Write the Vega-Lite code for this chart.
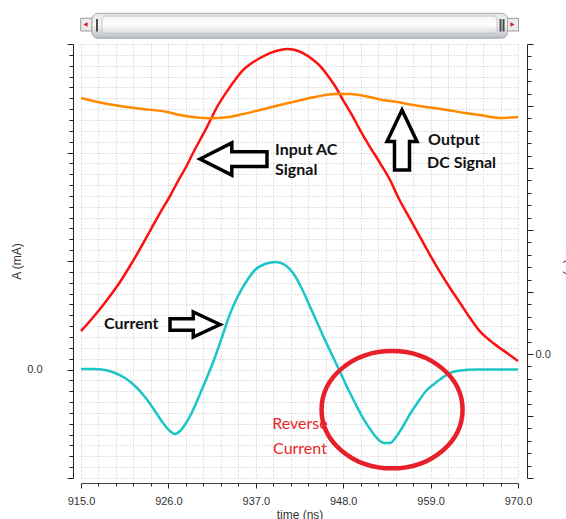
{
  "$schema": "https://vega.github.io/schema/vega-lite/v6.json",
  "width": 437,
  "height": 434,
  "autosize": {"type": "none"},
  "padding": {"left": 81, "top": 44, "right": 48, "bottom": 41},
  "background": "white",
  "config": {
    "view": {"stroke": null},
    "axis": {
      "labelFont": "Liberation Sans", "labelFontSize": 11, "labelColor": "#333",
      "titleFont": "Liberation Sans", "titleFontSize": 12, "titleFontWeight": "normal", "titleColor": "#333",
      "domainColor": "#222", "tickColor": "#222", "labelOverlap": false, "labelFlush": false
    }
  },
  "datasets": {
    "current": [
      {"t": 915.00, "v": 0.05}, {"t": 916.76, "v": 0.05}, {"t": 918.02, "v": -0.05}, {"t": 919.28, "v": -0.32},
      {"t": 920.54, "v": -0.78}, {"t": 921.80, "v": -1.52}, {"t": 923.06, "v": -2.53}, {"t": 924.31, "v": -3.82},
      {"t": 925.32, "v": -4.93}, {"t": 926.20, "v": -5.67}, {"t": 926.83, "v": -5.94}, {"t": 927.46, "v": -5.67},
      {"t": 928.22, "v": -4.93}, {"t": 929.10, "v": -3.73}, {"t": 929.98, "v": -2.26}, {"t": 930.98, "v": -0.51},
      {"t": 931.87, "v": 1.15}, {"t": 932.75, "v": 2.99}, {"t": 933.75, "v": 5.11}, {"t": 934.76, "v": 6.77},
      {"t": 935.77, "v": 8.06}, {"t": 936.90, "v": 9.17}, {"t": 938.16, "v": 9.72}, {"t": 939.55, "v": 9.91},
      {"t": 940.68, "v": 9.63}, {"t": 941.69, "v": 8.89}, {"t": 942.57, "v": 7.79}, {"t": 943.57, "v": 6.22},
      {"t": 944.58, "v": 4.56}, {"t": 945.59, "v": 2.90}, {"t": 946.60, "v": 1.34}, {"t": 947.61, "v": -0.23},
      {"t": 948.61, "v": -1.80}, {"t": 949.62, "v": -3.27}, {"t": 950.63, "v": -4.65}, {"t": 951.64, "v": -5.76},
      {"t": 952.64, "v": -6.59}, {"t": 953.15, "v": -6.77}, {"t": 953.90, "v": -6.77}, {"t": 954.65, "v": -6.22},
      {"t": 955.40, "v": -5.39}, {"t": 956.41, "v": -4.10}, {"t": 957.42, "v": -2.99}, {"t": 958.42, "v": -1.98},
      {"t": 959.43, "v": -1.34}, {"t": 960.44, "v": -0.78}, {"t": 961.45, "v": -0.32}, {"t": 962.71, "v": -0.09},
      {"t": 964.84, "v": 0.0}, {"t": 966.48, "v": 0.0}, {"t": 970.00, "v": 0.0}
    ],
    "voltage": [
      {"s": "AC", "t": 915.00, "v": 1.85}, {"s": "AC", "t": 916.13, "v": 2.66}, {"s": "AC", "t": 917.39, "v": 3.63},
      {"s": "AC", "t": 918.65, "v": 4.68}, {"s": "AC", "t": 919.91, "v": 5.81}, {"s": "AC", "t": 921.17, "v": 7.10},
      {"s": "AC", "t": 922.43, "v": 8.47}, {"s": "AC", "t": 923.68, "v": 9.92}, {"s": "AC", "t": 924.94, "v": 11.37},
      {"s": "AC", "t": 926.20, "v": 12.74}, {"s": "AC", "t": 927.21, "v": 13.95}, {"s": "AC", "t": 928.22, "v": 15.08},
      {"s": "AC", "t": 929.10, "v": 16.21}, {"s": "AC", "t": 929.98, "v": 17.26}, {"s": "AC", "t": 930.86, "v": 18.31},
      {"s": "AC", "t": 932.12, "v": 19.92}, {"s": "AC", "t": 933.75, "v": 21.53}, {"s": "AC", "t": 935.39, "v": 22.90},
      {"s": "AC", "t": 936.52, "v": 23.47}, {"s": "AC", "t": 937.53, "v": 23.87}, {"s": "AC", "t": 938.79, "v": 24.27},
      {"s": "AC", "t": 940.05, "v": 24.52}, {"s": "AC", "t": 940.93, "v": 24.60}, {"s": "AC", "t": 941.94, "v": 24.52},
      {"s": "AC", "t": 942.94, "v": 24.27}, {"s": "AC", "t": 944.08, "v": 23.79}, {"s": "AC", "t": 945.08, "v": 23.23},
      {"s": "AC", "t": 946.09, "v": 22.42}, {"s": "AC", "t": 946.97, "v": 21.61}, {"s": "AC", "t": 947.98, "v": 20.48},
      {"s": "AC", "t": 949.11, "v": 19.27}, {"s": "AC", "t": 950.12, "v": 18.06}, {"s": "AC", "t": 951.38, "v": 16.69},
      {"s": "AC", "t": 952.64, "v": 15.40}, {"s": "AC", "t": 953.90, "v": 14.03}, {"s": "AC", "t": 954.90, "v": 12.66},
      {"s": "AC", "t": 956.41, "v": 10.89}, {"s": "AC", "t": 957.67, "v": 9.44}, {"s": "AC", "t": 958.93, "v": 7.98},
      {"s": "AC", "t": 960.19, "v": 6.61}, {"s": "AC", "t": 961.45, "v": 5.32}, {"s": "AC", "t": 962.71, "v": 4.11},
      {"s": "AC", "t": 963.97, "v": 2.90}, {"s": "AC", "t": 965.22, "v": 1.82}, {"s": "AC", "t": 966.86, "v": 0.89},
      {"s": "AC", "t": 968.62, "v": 0.08}, {"s": "AC", "t": 970.00, "v": -0.56},
      {"s": "DC", "t": 915.00, "v": 20.65}, {"s": "DC", "t": 917.39, "v": 20.28}, {"s": "DC", "t": 919.91, "v": 20.00},
      {"s": "DC", "t": 922.80, "v": 19.76}, {"s": "DC", "t": 925.82, "v": 19.52}, {"s": "DC", "t": 927.46, "v": 19.27},
      {"s": "DC", "t": 929.60, "v": 19.07}, {"s": "DC", "t": 931.24, "v": 19.01}, {"s": "DC", "t": 933.38, "v": 19.09},
      {"s": "DC", "t": 935.39, "v": 19.35}, {"s": "DC", "t": 937.53, "v": 19.68}, {"s": "DC", "t": 940.05, "v": 20.08},
      {"s": "DC", "t": 942.19, "v": 20.40}, {"s": "DC", "t": 944.45, "v": 20.73}, {"s": "DC", "t": 946.97, "v": 20.97},
      {"s": "DC", "t": 948.86, "v": 20.97}, {"s": "DC", "t": 950.75, "v": 20.81}, {"s": "DC", "t": 952.64, "v": 20.52},
      {"s": "DC", "t": 954.77, "v": 20.32}, {"s": "DC", "t": 956.79, "v": 20.08}, {"s": "DC", "t": 958.93, "v": 19.88},
      {"s": "DC", "t": 961.07, "v": 19.68}, {"s": "DC", "t": 963.33, "v": 19.44}, {"s": "DC", "t": 965.22, "v": 19.27},
      {"s": "DC", "t": 967.74, "v": 19.03}, {"s": "DC", "t": 969.00, "v": 19.07}, {"s": "DC", "t": 970.00, "v": 19.11}
    ],
    "blackNotes": [
      {"label": "Input AC", "t": 939.42, "v": 19.77},
      {"label": "Signal", "t": 939.42, "v": 17.93},
      {"label": "Output", "t": 958.68, "v": 20.69},
      {"label": "DC Signal", "t": 958.55, "v": 18.57},
      {"label": "Current", "t": 917.89, "v": 3.73}
    ],
    "redNotes": [
      {"label": "Reverse", "t": 942.56, "v": -5.48},
      {"label": "Current", "t": 942.56, "v": -7.79}
    ]
  },
  "layer": [
    {
      "data": {"name": "current"},
      "mark": {"type": "line", "color": "#1cc6c6", "strokeWidth": 2.5, "interpolate": "monotone"},
      "encoding": {
        "x": {
          "field": "t", "type": "quantitative",
          "scale": {"domain": [915, 970], "nice": false, "zero": false},
          "axis": {
            "values": [915, 917.2, 919.4, 921.6, 923.8, 926, 928.2, 930.4, 932.6, 934.8, 937, 939.2, 941.4, 943.6, 945.8, 948, 950.2, 952.4, 954.6, 956.8, 959, 961.2, 963.4, 965.6, 967.8, 970],
            "tickCount": 200,
            "labelExpr": "abs((datum.value - 915) / 11 - round((datum.value - 915) / 11)) < 0.001 ? format(datum.value, '.1f') : ''",
            "tickSize": {"condition": {"test": "abs((datum.value - 915) / 11 - round((datum.value - 915) / 11)) < 0.001", "value": 5}, "value": 3},
            "grid": true, "gridColor": "#c4c4c4", "gridDash": [1, 2],
            "offset": 5, "labelPadding": 7,
            "title": "time (ns)", "titlePadding": 3, "domainColor": "#444"
          }
        },
        "y": {
          "field": "v", "type": "quantitative",
          "scale": {"domain": [-10, 30], "nice": false, "zero": false},
          "axis": {
            "orient": "left",
            "values": [-10, -9, -8, -7, -6, -5, -4, -3, -2, -1, 0, 1, 2, 3, 4, 5, 6, 7, 8, 9, 10, 11, 12, 13, 14, 15, 16, 17, 18, 19, 20, 21, 22, 23, 24, 25, 26, 27, 28, 29, 30],
            "tickCount": 200,
            "labelExpr": "datum.value == 0 ? '0.0' : ''",
            "tickSize": {"condition": {"test": "datum.value % 10 == 0", "value": 6}, "value": 4},
            "grid": true, "gridColor": "#c4c4c4", "gridDash": [1, 2],
            "offset": 8, "labelPadding": 25,
            "title": "A (mA)", "titlePadding": 3
          }
        }
      }
    },
    {
      "data": {"name": "voltage"},
      "mark": {"type": "line", "strokeWidth": 2.5, "interpolate": "monotone"},
      "encoding": {
        "x": {"field": "t", "type": "quantitative"},
        "y": {
          "field": "v", "type": "quantitative",
          "scale": {"domain": [-10, 25], "nice": false, "zero": false},
          "axis": {
            "orient": "right",
            "values": [-10, -9, -8, -7, -6, -5, -4, -3, -2, -1, 0, 1, 2, 3, 4, 5, 6, 7, 8, 9, 10, 11, 12, 13, 14, 15, 16, 17, 18, 19, 20, 21, 22, 23, 24, 25],
            "tickCount": 200,
            "labelExpr": "datum.value == 0 ? '0.0' : ''",
            "tickSize": {"condition": {"test": "datum.value % 5 == 0", "value": 6}, "value": 4},
            "grid": false, "offset": 9, "labelPadding": 2,
            "title": "V (V)", "titlePadding": 12
          }
        },
        "color": {"field": "s", "type": "nominal", "scale": {"domain": ["AC", "DC"], "range": ["#ff1010", "#ff8a00"]}, "legend": null}
      }
    },
    {
      "data": {"values": [{"t": 934.19, "v": 19.4}]},
      "mark": {"type": "point", "shape": "M -1 0 L -0.05 -0.48 L -0.05 -0.22 L 1 -0.22 L 1 0.22 L -0.05 0.22 L -0.05 0.48 Z", "size": 4489, "filled": true, "fill": "white", "stroke": "black", "strokeWidth": 3.5, "opacity": 1},
      "encoding": {
        "x": {"field": "t", "type": "quantitative"},
        "y": {"field": "v", "type": "quantitative", "scale": {"domain": [-10, 30], "nice": false, "zero": false}, "axis": null}
      }
    },
    {
      "data": {"values": [{"t": 955.40, "v": 21.15}]},
      "mark": {"type": "point", "shape": "M 0 -1 L 0.5 0.05 L 0.25 0.05 L 0.25 1 L -0.25 1 L -0.25 0.05 L -0.5 0.05 Z", "size": 3600, "filled": true, "fill": "white", "stroke": "black", "strokeWidth": 3.5, "opacity": 1},
      "encoding": {
        "x": {"field": "t", "type": "quantitative"},
        "y": {"field": "v", "type": "quantitative", "scale": {"domain": [-10, 30], "nice": false, "zero": false}, "axis": null}
      }
    },
    {
      "data": {"values": [{"t": 929.35, "v": 4.15}]},
      "mark": {"type": "point", "shape": "M 1 0 L -0.07 -0.5 L -0.07 -0.23 L -1 -0.23 L -1 0.23 L -0.07 0.23 L -0.07 0.5 Z", "size": 2500, "filled": true, "fill": "white", "stroke": "black", "strokeWidth": 3.5, "opacity": 1},
      "encoding": {
        "x": {"field": "t", "type": "quantitative"},
        "y": {"field": "v", "type": "quantitative", "scale": {"domain": [-10, 30], "nice": false, "zero": false}, "axis": null}
      }
    },
    {
      "data": {"values": [{"t": 954.15, "v": -3.7}]},
      "mark": {"type": "point", "shape": "M -1 0 C -1 -0.46 -0.552 -0.833 0 -0.833 C 0.552 -0.833 1 -0.46 1 0 C 1 0.46 0.552 0.833 0 0.833 C -0.552 0.833 -1 0.46 -1 0 Z", "size": 19881, "filled": false, "stroke": "#e8202a", "strokeWidth": 4.5, "opacity": 1},
      "encoding": {
        "x": {"field": "t", "type": "quantitative"},
        "y": {"field": "v", "type": "quantitative", "scale": {"domain": [-10, 30], "nice": false, "zero": false}, "axis": null}
      }
    },
    {
      "data": {"name": "blackNotes"},
      "mark": {"type": "text", "align": "left", "baseline": "alphabetic", "font": "Lato", "fontSize": 16, "fontWeight": "bold", "color": "#111"},
      "encoding": {
        "x": {"field": "t", "type": "quantitative"},
        "y": {"field": "v", "type": "quantitative", "scale": {"domain": [-10, 30], "nice": false, "zero": false}, "axis": null},
        "text": {"field": "label"}
      }
    },
    {
      "data": {"name": "redNotes"},
      "mark": {"type": "text", "align": "center", "baseline": "alphabetic", "font": "Lato", "fontSize": 16, "color": "#e8262b"},
      "encoding": {
        "x": {"field": "t", "type": "quantitative"},
        "y": {"field": "v", "type": "quantitative", "scale": {"domain": [-10, 30], "nice": false, "zero": false}, "axis": null},
        "text": {"field": "label"}
      }
    },
    {
      "data": {"values": [{"t": 914.96, "t2": 916.38, "v": 32.37, "v2": 31.2}, {"t": 968.68, "t2": 970.06, "v": 32.37, "v2": 31.2}]},
      "mark": {"type": "rect", "fill": "#ececec", "stroke": "#9a9a9a", "strokeWidth": 1},
      "encoding": {
        "x": {"field": "t", "type": "quantitative"},
        "x2": {"field": "t2"},
        "y": {"field": "v", "type": "quantitative", "scale": {"domain": [-10, 30], "nice": false, "zero": false}, "axis": null},
        "y2": {"field": "v2"}
      }
    },
    {
      "data": {"values": [{"t": 916.38, "t2": 968.68, "v": 32.83, "v2": 30.53}]},
      "mark": {"type": "rect", "cornerRadius": 6, "stroke": "#a4a8ae", "strokeWidth": 1,
        "fill": {"gradient": "linear", "x1": 0, "y1": 0, "x2": 0, "y2": 1, "stops": [{"offset": 0, "color": "#e2e3e5"}, {"offset": 0.45, "color": "#f7f7f7"}, {"offset": 1, "color": "#b9bdc3"}]}},
      "encoding": {
        "x": {"field": "t", "type": "quantitative"},
        "x2": {"field": "t2"},
        "y": {"field": "v", "type": "quantitative", "scale": {"domain": [-10, 30], "nice": false, "zero": false}, "axis": null},
        "y2": {"field": "v2"}
      }
    },
    {
      "data": {"values": [{"t": 917.64, "t2": 967.36, "v": 32.58, "v2": 30.99}]},
      "mark": {"type": "rect", "cornerRadius": 4, "stroke": "#c2c4c8", "strokeWidth": 1,
        "fill": {"gradient": "linear", "x1": 0, "y1": 0, "x2": 0, "y2": 1, "stops": [{"offset": 0, "color": "#f4f4f4"}, {"offset": 0.5, "color": "#fdfdfd"}, {"offset": 1, "color": "#dcdde0"}]}},
      "encoding": {
        "x": {"field": "t", "type": "quantitative"},
        "x2": {"field": "t2"},
        "y": {"field": "v", "type": "quantitative", "scale": {"domain": [-10, 30], "nice": false, "zero": false}, "axis": null},
        "y2": {"field": "v2"}
      }
    },
    {
      "data": {"values": [{"t": 917.01, "v": 32.3, "v2": 31.15}, {"t": 967.8, "v": 32.3, "v2": 31.15}, {"t": 968.18, "v": 32.3, "v2": 31.15}]},
      "mark": {"type": "rule", "color": "#4a4a4a", "strokeWidth": 2},
      "encoding": {
        "x": {"field": "t", "type": "quantitative"},
        "y": {"field": "v", "type": "quantitative", "scale": {"domain": [-10, 30], "nice": false, "zero": false}, "axis": null},
        "y2": {"field": "v2"}
      }
    },
    {
      "data": {"values": [{"t": 915.57, "v": 31.8, "side": "left"}, {"t": 969.31, "v": 31.8, "side": "right"}]},
      "mark": {"type": "point", "filled": true, "size": 22, "color": "#e01010", "opacity": 1},
      "encoding": {
        "x": {"field": "t", "type": "quantitative"},
        "y": {"field": "v", "type": "quantitative", "scale": {"domain": [-10, 30], "nice": false, "zero": false}, "axis": null},
        "shape": {"field": "side", "type": "nominal", "scale": {"domain": ["left", "right"], "range": ["triangle-left", "triangle-right"]}, "legend": null}
      }
    }
  ],
  "resolve": {"scale": {"y": "independent"}}
}
